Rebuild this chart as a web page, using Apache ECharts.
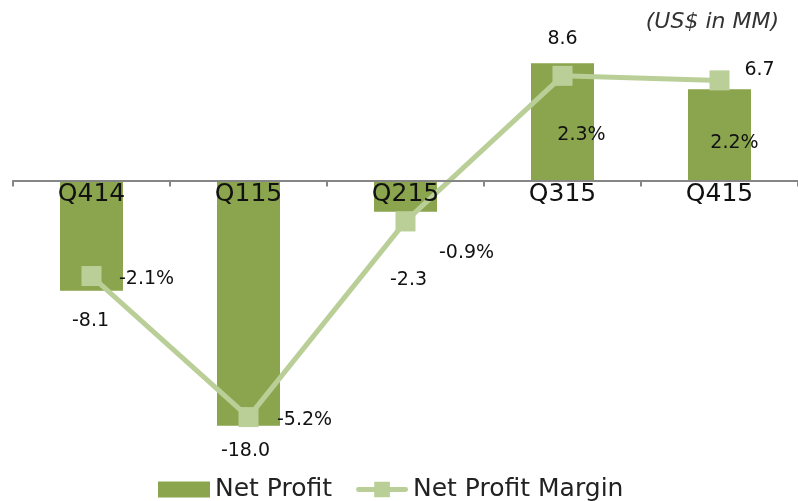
<!DOCTYPE html>
<html>
<head>
<meta charset="utf-8">
<script src="https://cdn.jsdelivr.net/npm/echarts@6/dist/echarts.min.js"></script>
<style>
  html, body { margin: 0; padding: 0; background: #fff; }
  #main { width: 798px; height: 501px; }
</style>
</head>
<body>
<div id="main"></div>
<script>
var quarters = ['Q414', 'Q115', 'Q215', 'Q315', 'Q415'];
var netProfit = [-8.1, -18.0, -2.3, 8.6, 6.7];
var netMargin = [-2.1, -5.2, -0.9, 2.3, 2.2];

// label nudges, copied by eye from the slide
var profitLabelOffset = [[-1, 21], [-3, 16], [3, 59], [0, -15], [40, -10]];
var marginLabelOffset = [[55, 3], [56, 3], [61, 32], [19, 59], [15, 63]];

var font = 'DejaVu Sans';

var myChart = echarts.init(document.getElementById('main'));

var profitData = netProfit.map(function (v, i) {
    return {
        value: v,
        label: {
            position: v < 0 ? 'bottom' : 'top',
            distance: 0,
            offset: profitLabelOffset[i]
        }
    };
});

var marginData = netMargin.map(function (v, i) {
    return {
        value: v,
        label: { offset: marginLabelOffset[i] }
    };
});

option = {
    animation: false,
    title: {
        text: '(US$ in MM)',
        right: 14,
        top: 6,
        textStyle: { fontFamily: font, fontSize: 22, fontStyle: 'italic', fontWeight: 'normal', color: '#333' }
    },
    legend: {
        left: 153,
        top: 472,
        itemWidth: 52,
        itemHeight: 16,
        itemGap: 24,
        textStyle: { fontFamily: font, fontSize: 25, color: '#222' },
        data: [
            { name: 'Net Profit', icon: 'rect' },
            {
                name: 'Net Profit Margin',
                icon: 'path://M2,5.5 L18,5.5 L18,0 L34,0 L34,5.5 L50,5.5 A2.5,2.5 0 0 1 50,10.5 L34,10.5 L34,16 L18,16 L18,10.5 L2,10.5 A2.5,2.5 0 0 1 2,5.5 Z'
            }
        ]
    },
    grid: { left: 13, width: 789, top: 44.3, height: 408.6 },
    xAxis: {
        type: 'category',
        data: quarters,
        z: 10,
        offset: -272.4,
        axisLine: { onZero: false, lineStyle: { color: '#868686', width: 2 } },
        axisTick: { show: true, length: 6, lineStyle: { color: '#868686', width: 2 } },
        axisLabel: { margin: 1, fontFamily: font, fontSize: 25, color: '#111' }
    },
    yAxis: [
        { type: 'value', min: -20, max: 10, show: false, splitLine: { show: false } },
        { type: 'value', min: -5.987, max: 2.993, show: false, splitLine: { show: false } }
    ],
    series: [
        {
            name: 'Net Profit',
            type: 'bar',
            barWidth: 63,
            itemStyle: { color: '#8aa54d', borderRadius: 0 },
            label: {
                show: true,
                fontFamily: font,
                fontSize: 19,
                color: '#111',
                formatter: function (p) { return p.value.toFixed(1); }
            },
            data: profitData
        },
        {
            name: 'Net Profit Margin',
            type: 'line',
            yAxisIndex: 1,
            z: 5,
            symbol: 'rect',
            symbolSize: 20,
            lineStyle: { color: '#bacf98', width: 5 },
            itemStyle: { color: '#bacf98' },
            label: {
                show: true,
                position: 'inside',
                fontFamily: font,
                fontSize: 19,
                color: '#111',
                formatter: function (p) { return p.value.toFixed(1) + '%'; }
            },
            data: marginData
        }
    ]
};

myChart.setOption(option);
</script>
</body>
</html>
